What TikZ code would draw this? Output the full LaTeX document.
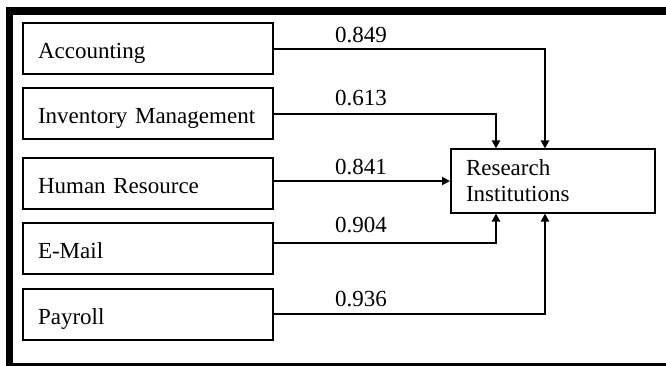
\documentclass[tikz,border=0pt]{standalone}
\usepackage{fontspec}
\setmainfont{Liberation Serif}
\usetikzlibrary{arrows.meta}
\begin{document}
\begin{tikzpicture}[x=1pt,y=-1pt,
  font=\fontsize{23}{26}\selectfont,
  srcbox/.style={draw,line width=2pt,minimum width=250pt,minimum height=51pt,
    text width=220pt,inner xsep=15pt,inner ysep=0pt,align=left,
    text height=22pt,text depth=2pt},
  tgtbox/.style={draw,line width=2pt,minimum width=204pt,minimum height=63pt,
    text width=174pt,inner xsep=15pt,inner ysep=0pt,align=left},
  wt/.style={anchor=base west,inner sep=0pt},
  link/.style={line width=2pt,-{Triangle[length=8pt,width=8pt]}}]
  \useasboundingbox (0,0) rectangle (666,366);
  \clip (0,0) rectangle (666,366);
  % outer frame (its right side runs past the page edge)
  \draw[line width=7.5pt] (9.5,11) rectangle (700,367);

  % predictor boxes
  \node[srcbox] (acc) at (148,49)    {Accounting};
  \node[srcbox] (inv) at (148,114)   {Inventory Management};
  \node[srcbox] (hr)  at (148,183.5) {Human Resource};
  \node[srcbox] (em)  at (148,248)   {E-Mail};
  \node[srcbox] (pay) at (148,314)   {Payroll};

  % outcome box
  \node[tgtbox] (res) at (553,181) {Research\\Institutions};

  % path weights
  \node[wt] (w1) at (335,43)  {0.849};
  \node[wt] (w2) at (335,106) {0.613};
  \node[wt] (w3) at (335,175) {0.841};
  \node[wt] (w4) at (335,232) {0.904};
  \node[wt] (w5) at (335,306) {0.936};

  % connectors
  \draw[link] (acc.east) -| ([xshift=-8pt]res.north);
  \draw[link] (inv.east) -| ([xshift=-57pt]res.north);
  \draw[link] (hr.east |- res.west) -- (res.west);
  \draw[link] ([yshift=5pt]em.east) -| ([xshift=-57pt]res.south);
  \draw[link] (pay.east) -| ([xshift=-8pt]res.south);
\end{tikzpicture}
\end{document}
